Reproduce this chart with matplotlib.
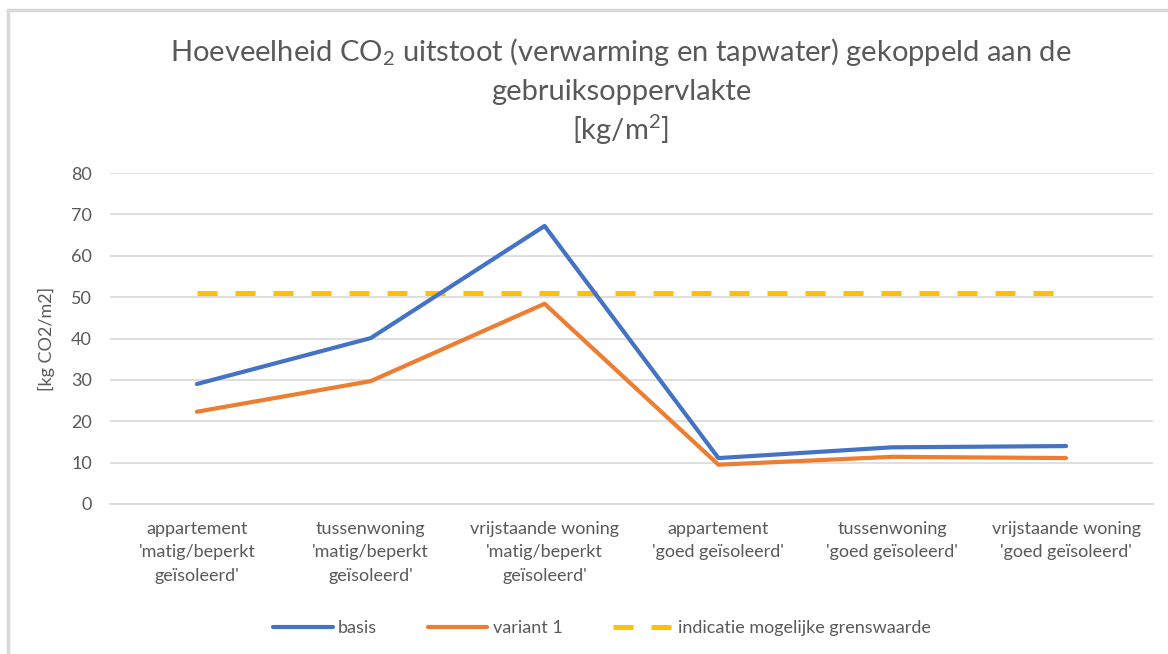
import matplotlib.pyplot as plt
import numpy as np
from matplotlib.lines import Line2D

plt.rcParams['font.family'] = ['Lato', 'DejaVu Sans']
plt.rcParams['mathtext.fontset'] = 'custom'
plt.rcParams['mathtext.rm'] = 'Lato'
plt.rcParams['mathtext.default'] = 'regular'

# data
categories = ["appartement\n'matig/beperkt\ngeïsoleerd'",
              "tussenwoning\n'matig/beperkt\ngeïsoleerd'",
              "vrijstaande woning\n'matig/beperkt\ngeïsoleerd'",
              "appartement\n'goed geïsoleerd'",
              "tussenwoning\n'goed geïsoleerd'",
              "vrijstaande woning\n'goed geïsoleerd'"]
basis = [29.0, 40.1, 67.2, 11.1, 13.7, 14.0]
variant_1 = [22.3, 29.7, 48.4, 9.5, 11.4, 11.1]
grenswaarde = [51, 51, 51, 51, 51, 51]

text_col = "#595959"
grid_col = "#d9d9d9"

fig = plt.figure(figsize=(11.68, 6.54), dpi=100)
ax = fig.add_axes([110/1168, 1 - 504/654, 1043/1168, 331/654])

x = np.arange(len(categories))
ax.plot(x, basis, color="#4472C4", lw=3.0, solid_joinstyle='round', solid_capstyle='round', label="basis", zorder=3)
ax.plot(x, variant_1, color="#ED7D31", lw=3.0, solid_joinstyle='round', solid_capstyle='round', label="variant 1", zorder=3)
ax.plot(x, grenswaarde, color="#FFC000", lw=3.6, linestyle=(0, (4.0, 3.6)), dash_capstyle='butt',
        label="indicatie mogelijke grenswaarde", zorder=2)

ax.set_xlim(-0.5, 5.5)
ax.set_ylim(0, 80)
ax.set_yticks(range(0, 81, 10))
ax.set_xticks(x)
ax.set_xticklabels(categories, fontsize=13, color=text_col, linespacing=1.6)
ax.tick_params(axis='y', labelsize=13, labelcolor=text_col, length=0, pad=13)
ax.tick_params(axis='x', length=0, pad=12)
ax.grid(axis='y', color=grid_col, lw=1.2)
ax.set_axisbelow(True)
for s in ax.spines.values():
    s.set_visible(False)
ax.spines['bottom'].set_visible(True)
ax.spines['bottom'].set_color(grid_col)
ax.spines['bottom'].set_linewidth(1.2)

ax.set_ylabel("[kg CO2/m2]", fontsize=13, color=text_col)
ax.yaxis.set_label_coords(-55/1043, 0.5)

tx = 621/1168
fig.text(tx, 1 - 52/654, "Hoeveelheid CO$_2$ uitstoot (verwarming en tapwater) gekoppeld aan de",
         ha='center', va='center', fontsize=21, color=text_col)
fig.text(tx, 1 - 92/654, "gebruiksoppervlakte", ha='center', va='center', fontsize=21, color=text_col)
fig.text(tx, 1 - 130/654, "[kg/m$^2$]", ha='center', va='center', fontsize=21, color=text_col)

leg = fig.legend(loc='center', bbox_to_anchor=(602/1168, 1 - 628/654), ncol=3, frameon=False,
                 fontsize=13, handlelength=3.3, columnspacing=2.8, handletextpad=0.3)
for t in leg.get_texts():
    t.set_color(text_col)

# chart border
fig.add_artist(Line2D([7.5/1168, 7.5/1168], [0, 1 - 9.5/654], color=grid_col, lw=2.5, transform=fig.transFigure))
fig.add_artist(Line2D([7.5/1168, 1], [1 - 9.5/654, 1 - 9.5/654], color=grid_col, lw=2.5, transform=fig.transFigure))

fig.savefig("out.png", dpi=100)
